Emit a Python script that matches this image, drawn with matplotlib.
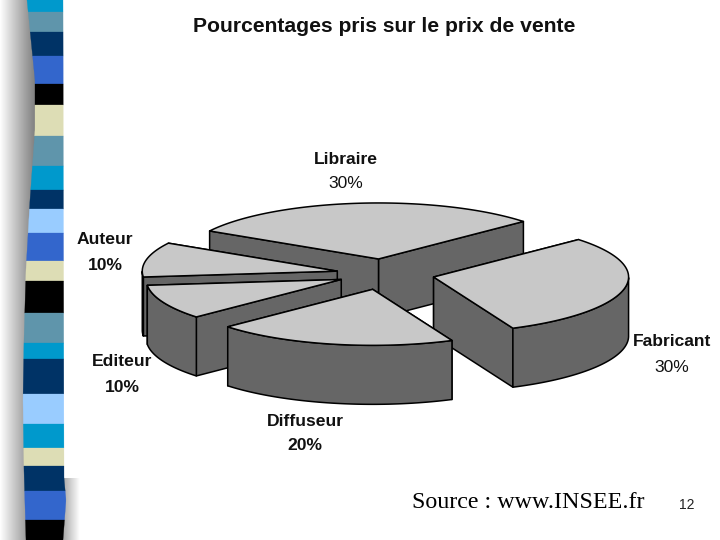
import numpy as np
import matplotlib
matplotlib.use("Agg")
import matplotlib.pyplot as plt
from matplotlib.patches import Polygon

# ---- data ----
labels = ["Libraire", "Auteur", "Editeur", "Diffuseur", "Fabricant"]
values = [30, 10, 10, 20, 30]
explode = [0.27, 0.245, 0.24, 0.28, 0.26]
pct_labels = ["30%", "10%", "10%", "20%", "30%"]
draw_order = ["Libraire", "Fabricant", "Auteur", "Editeur", "Diffuseur"]
title = "Pourcentages pris sur le prix de vente"
source = "Source : www.INSEE.fr"
page = "12"

# ---- pie projection ----
start_angle = 42.0
cx, cy = 384.0, 274.0
rx, ry = 195.0, 56.0
depth = 59.0
top_col, side_col = "#c8c8c8", "#666666"

label_pos = {"Libraire": (346, 159, 184, "bold", "normal"),
             "Auteur": (105, 240, 265, "bold", "bold"),
             "Editeur": (122, 362, 387, "bold", "bold"),
             "Diffuseur": (305, 422, 446, "bold", "bold"),
             "Fabricant": (672, 342, 367, "bold", "normal")}

# ---- decorative strip ----
strip_colors = ["#0099cc", "#5f95ab", "#003366", "#3366cc", "#000000", "#ddddb5",
                "#5f95ab", "#0099cc", "#003366", "#99ccff", "#3366cc", "#ddddb5",
                "#000000", "#5f95ab", "#0099cc", "#003366", "#99ccff", "#0099cc",
                "#ddddb5", "#003366", "#3366cc", "#000000"]
strip_y = [0, 12, 32, 56, 84, 105, 136, 166, 190, 209, 233, 261, 281, 313, 343,
           359, 394, 424, 448, 466, 491, 520, 540]
edge_y = [0, 30, 80, 130, 200, 270, 340, 400, 470, 540]
edge_x = [27, 30, 35, 35, 30, 26, 24, 23, 24, 26]
right_y = [0, 478, 500, 540]
right_x = [63, 64, 66, 63]

fig = plt.figure(figsize=(7.2, 5.4), dpi=100, facecolor="white")
ax = fig.add_axes([0, 0, 1, 1])
ax.set_xlim(0, 720)
ax.set_ylim(540, 0)
ax.axis("off")

# left shadow gradient
grad = np.linspace(1, 0.58, 256)[None, :] ** 1.4
ax.imshow(grad, extent=(0, 38, 540, 0), cmap="gray", vmin=0, vmax=1, aspect="auto", zorder=0)
grad2 = np.linspace(0.6, 1, 128)[None, :]
ax.imshow(grad2, extent=(60, 80, 540, 478), cmap="gray", vmin=0, vmax=1, aspect="auto", zorder=0)
ax.set_xlim(0, 720)
ax.set_ylim(540, 0)

for i, col in enumerate(strip_colors):
    ys = np.linspace(strip_y[i], strip_y[i + 1], 12)
    lx = np.interp(ys, edge_y, edge_x)
    rxs = np.interp(ys, right_y, right_x)
    pts = np.r_[np.c_[lx, ys], np.c_[rxs[::-1], ys[::-1]]]
    ax.add_patch(Polygon(pts, closed=True, fc=col, ec=col, lw=0.2, zorder=1))


def face(pts, col, z):
    ax.add_patch(Polygon(pts, closed=True, fc=col, ec="black", lw=1.1,
                         joinstyle="round", zorder=z))


# angular extents of the slices, from the values
total = sum(values)
spans = {}
a = start_angle
for name, v in zip(labels, values):
    spans[name] = (a, a + 360.0 * v / total)
    a += 360.0 * v / total
expl = dict(zip(labels, explode))

z = 2
for name in draw_order:
    a0, a1 = spans[name]
    mid = np.radians((a0 + a1) / 2)
    ax0 = cx + expl[name] * rx * np.cos(mid)
    ay0 = cy - expl[name] * ry * np.sin(mid)
    t = np.radians(np.linspace(a0, a1, 120))
    ax_arc = ax0 + rx * np.cos(t)
    ay_arc = ay0 - ry * np.sin(t)
    # radial walls: the back-facing one first
    walls = [(ax_arc[0], ay_arc[0]), (ax_arc[-1], ay_arc[-1])]
    walls.sort(key=lambda p: p[1])
    for wx, wy in walls:
        face([(ax0, ay0), (wx, wy), (wx, wy + depth), (ax0, ay0 + depth)], side_col, z)
        z += 1
    # outer wall where the rim faces the viewer
    front = np.sin(t) < 0
    if front.any():
        fx, fy = ax_arc[front], ay_arc[front]
        face(np.r_[np.c_[fx, fy], np.c_[fx[::-1], fy[::-1] + depth]], side_col, z)
        z += 1
    # top
    face(np.r_[[[ax0, ay0]], np.c_[ax_arc, ay_arc]], top_col, z)
    z += 1

# ---- texts ----
sans = "Liberation Sans"
ax.text(384.5, 26, title, family=sans, weight="bold", fontsize=15.25,
        ha="center", va="center", color="#111111", zorder=50)
for name, pct in zip(labels, pct_labels):
    x, y1, y2, w1, w2 = label_pos[name]
    ax.text(x, y1, name, family=sans, weight=w1, fontsize=12.6, ha="center", va="center",
            color="#111111", zorder=50)
    ax.text(x, y2, pct, family=sans, weight=w2, fontsize=12.6, ha="center", va="center",
            color="#111111", zorder=50)
ax.text(412, 503, source, family="Liberation Serif", fontsize=17.3, ha="left", va="center",
        color="black", zorder=50)
ax.text(687, 505, page, family=sans, fontsize=10, ha="center", va="center",
        color="#222222", zorder=50)

fig.savefig("out.png", dpi=100)
